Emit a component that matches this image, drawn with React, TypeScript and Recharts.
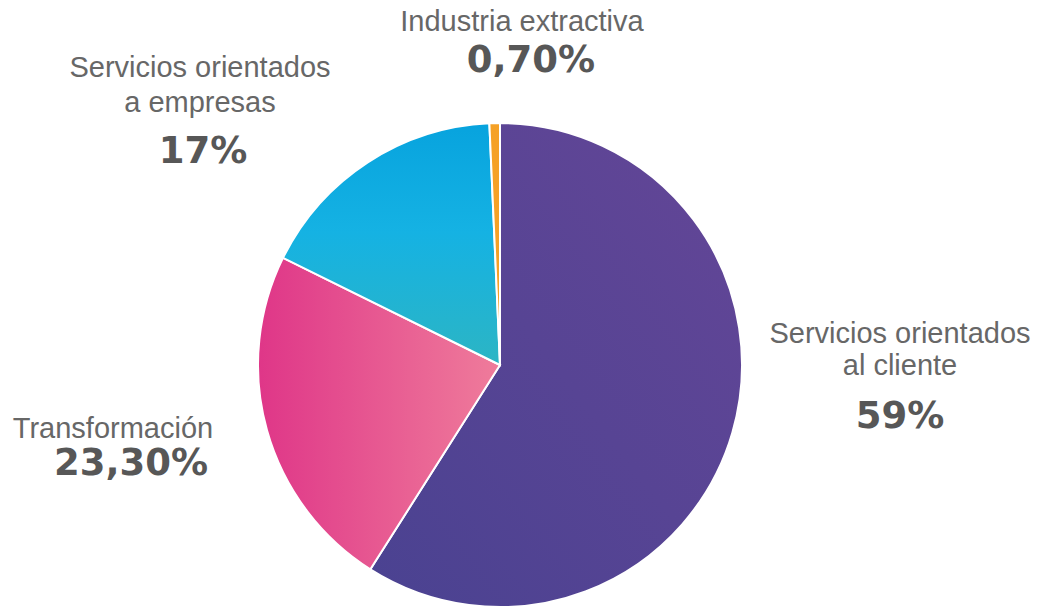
import { PieChart, Pie, Cell } from "recharts";

const sectors = [
  "Servicios orientados al cliente",
  "Transformación",
  "Servicios orientados a empresas",
  "Industria extractiva",
];
const shares = [59, 23.3, 17, 0.7];
const nameLines = [
  ["Servicios orientados", "al cliente"],
  ["Transformación"],
  ["Servicios orientados", "a empresas"],
  ["Industria extractiva"],
];

const data = sectors.map((name, i) => ({ name, value: shares[i] }));

// label placement relative to the pie center: x offset, baseline of each line
const labelPos = [
  { dx: 400, pdx: 400, lines: [-22, 10], pct: 63 },
  { dx: -387, pdx: -369, lines: [73], pct: 110 },
  { dx: -300, pdx: -297, lines: [-288, -253], pct: -202 },
  { dx: 22, pdx: 31, lines: [-334], pct: -293 },
];

const fills = ["url(#gPurple)", "url(#gPink)", "url(#gCyan)", "#f5a126"];

const fmt = (v: number) =>
  Number.isInteger(v) ? `${v}%` : `${v.toFixed(2).replace(".", ",")}%`;

function renderLabel(props: any) {
  const { cx, cy, index, value } = props;
  const p = labelPos[index];
  return (
    <g key={`lbl-${index}`}>
      {nameLines[index].map((line, j) => (
        <text
          key={j}
          x={cx + p.dx}
          y={cy + p.lines[j]}
          textAnchor="middle"
          fill="#676767"
          fontSize={29}
          fontFamily="'Liberation Sans', Arial, sans-serif"
        >
          {line}
        </text>
      ))}
      <text
        x={cx + p.pdx}
        y={cy + p.pct}
        textAnchor="middle"
        fill="#575757"
        fontSize={37}
        fontWeight="bold"
        fontFamily="'DejaVu Sans', sans-serif"
      >
        {fmt(value)}
      </text>
    </g>
  );
}

function App() {
  return (
    <div style={{ position: "absolute", left: 0, top: 0, background: "#fff" }}>
      <PieChart
        width={1037}
        height={609}
        margin={{ top: 0, right: 0, bottom: 0, left: 0 }}
      >
        <defs>
          <linearGradient id="gPurple" x1="0" y1="1" x2="1" y2="0">
            <stop offset="0%" stopColor="#4a4291" />
            <stop offset="100%" stopColor="#644697" />
          </linearGradient>
          <linearGradient id="gPink" x1="0" y1="0" x2="1" y2="0">
            <stop offset="0%" stopColor="#df3688" />
            <stop offset="100%" stopColor="#ef7c9b" />
          </linearGradient>
          <linearGradient id="gCyan" x1="0" y1="0" x2="0" y2="1">
            <stop offset="0%" stopColor="#07a3de" />
            <stop offset="45%" stopColor="#15b2e3" />
            <stop offset="100%" stopColor="#2cb5c4" />
          </linearGradient>
        </defs>
        <Pie
          data={data}
          dataKey="value"
          nameKey="name"
          cx={500}
          cy={365}
          outerRadius={242}
          startAngle={90}
          endAngle={-270}
          stroke="#fff"
          strokeWidth={2}
          label={renderLabel}
          labelLine={false}
          isAnimationActive={false}
        >
          {data.map((d, i) => (
            <Cell key={d.name} fill={fills[i]} />
          ))}
        </Pie>
      </PieChart>
    </div>
  );
}

export default App;
